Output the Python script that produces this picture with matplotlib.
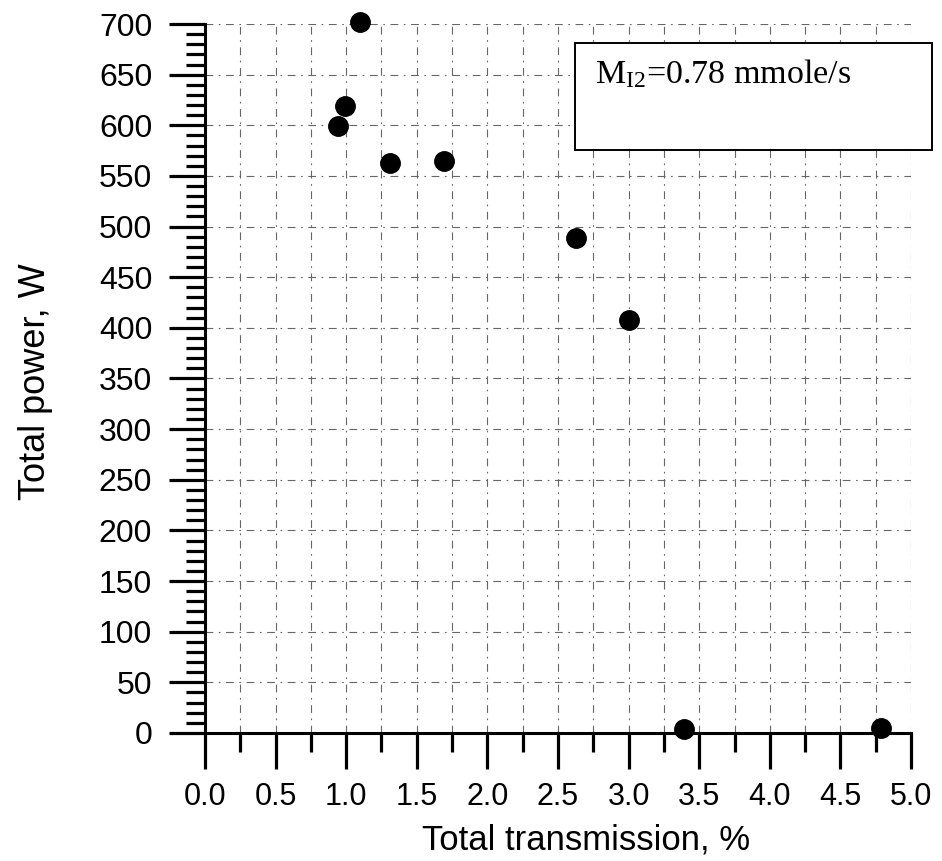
import matplotlib
matplotlib.use("Agg")
import matplotlib.pyplot as plt
from matplotlib.patches import Rectangle
from matplotlib.ticker import MultipleLocator, FormatStrFormatter

# ---- data ----
transmission = [0.94, 0.99, 1.10, 1.31, 1.69, 2.63, 3.00, 3.39, 4.79]
power = [599, 619, 702, 563, 565, 489, 408, 4, 5]
x_label = "Total transmission, %"
y_label = "Total power, W"
note = r"$\mathrm{M_{I2}}$=0.78 mmole/s"

plt.rcParams['font.family'] = ['Liberation Sans', 'DejaVu Sans']
plt.rcParams['mathtext.fontset'] = 'custom'
plt.rcParams['mathtext.rm'] = 'Liberation Serif'

fig = plt.figure(figsize=(9.42, 8.61), dpi=100)
ax = fig.add_axes([0.2176, 0.1487, 0.7495, 0.8234])

ax.set_xlim(0, 5)
ax.set_ylim(0, 700)

ax.xaxis.set_major_locator(MultipleLocator(0.5))
ax.xaxis.set_minor_locator(MultipleLocator(0.25))
ax.xaxis.set_major_formatter(FormatStrFormatter('%.1f'))
ax.yaxis.set_major_locator(MultipleLocator(50))
ax.yaxis.set_minor_locator(MultipleLocator(10))

for s in ['top', 'right']:
    ax.spines[s].set_visible(False)
for s in ['left', 'bottom']:
    ax.spines[s].set_linewidth(2.2)
    ax.spines[s].set_color('black')

ax.tick_params(axis='both', which='major', direction='out', length=26, width=2.3, color='black')
ax.tick_params(axis='both', which='minor', direction='out', length=14, width=2.3, color='black')
ax.tick_params(axis='x', which='major', labelsize=22, pad=9)
ax.tick_params(axis='y', which='major', labelsize=23, pad=12)

gridstyle = dict(color='0.4', linewidth=0.8, linestyle=(0, (7, 5, 1.5, 5)))
ax.grid(True, axis='x', which='both', **gridstyle)
ax.grid(True, axis='y', which='major', **gridstyle)
ax.set_axisbelow(True)

ax.plot(transmission, power, linestyle='none', marker='o', markersize=14,
        color='black', clip_on=False, zorder=5)

ax.set_xlabel(x_label, fontsize=25)
ax.xaxis.set_label_coords(0.54, -0.128)
ax.xaxis.label.set_va('top')
ax.set_ylabel(y_label, fontsize=26)
ax.yaxis.set_label_coords(-0.215, 0.495)

rect = Rectangle((0.524, 0.822), 0.506, 0.151, transform=ax.transAxes,
                 facecolor='white', edgecolor='black', linewidth=1.4,
                 clip_on=False, zorder=6)
ax.add_patch(rect)
ax.text(0.552, 0.917, note, transform=ax.transAxes, fontsize=24.5,
        family='Liberation Serif', va='baseline', ha='left', zorder=7)

fig.savefig('out.png', dpi=100)
